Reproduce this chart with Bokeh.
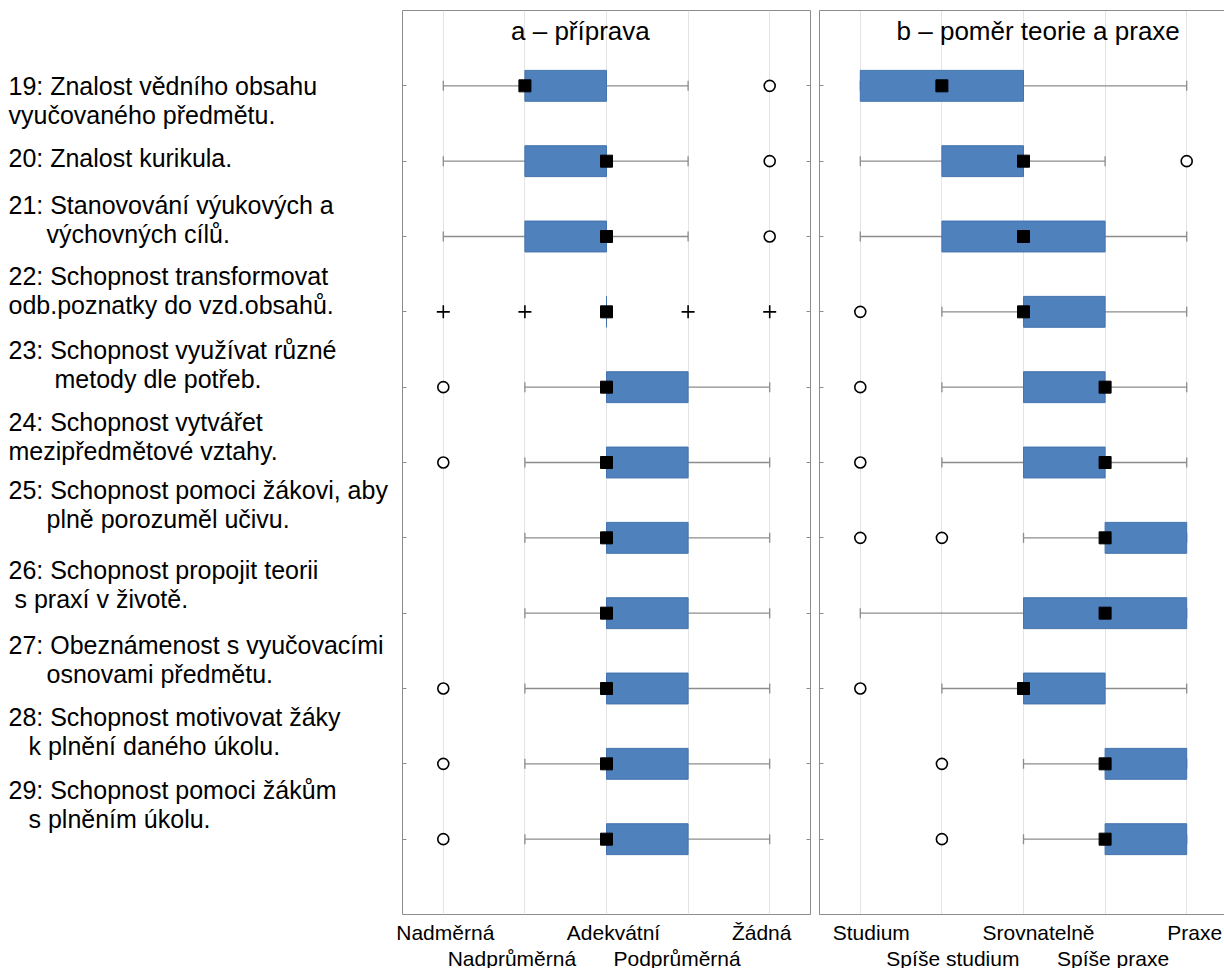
from bokeh.plotting import figure
from bokeh.models import Range1d, FixedTicker, LinearAxis, Label
from bokeh.layouts import row
from bokeh.embed import file_html
from bokeh.resources import INLINE
from bokeh.core.properties import value

# ---------------- data ----------------
items = [
    "19: Znalost vědního obsahu\nvyučovaného  předmětu.",
    "20: Znalost kurikula.",
    "21: Stanovování výukových a\nvýchovných cílů.",
    "22: Schopnost transformovat\nodb.poznatky do vzd.obsahů.",
    "23: Schopnost  využívat různé\nmetody dle potřeb.",
    "24: Schopnost vytvářet\nmezipředmětové  vztahy.",
    "25: Schopnost pomoci žákovi, aby\nplně porozuměl učivu.",
    "26: Schopnost propojit teorii\ns praxí v životě.",
    "27: Obeznámenost s vyučovacími\nosnovami předmětu.",
    "28: Schopnost motivovat žáky\nk plnění daného úkolu.",
    "29: Schopnost pomoci žákům\ns plněním úkolu.",
]
rows = list(range(1, 12))

a_title = "a – příprava"
a_ticks = ["Nadměrná", "Nadprůměrná", "Adekvátní", "Podprůměrná", "Žádná"]
a_min = [1, 1, 1, 3, 2, 2, 2, 2, 2, 2, 2]
a_q1 = [2, 2, 2, 3, 3, 3, 3, 3, 3, 3, 3]
a_med = [2, 3, 3, 3, 3, 3, 3, 3, 3, 3, 3]
a_q3 = [3, 3, 3, 3, 4, 4, 4, 4, 4, 4, 4]
a_max = [4, 4, 4, 3, 5, 5, 5, 5, 5, 5, 5]
a_outliers = [[5], [5], [5], [], [1], [1], [], [], [1], [1], [1]]
a_extremes = [[], [], [], [1, 2, 4, 5], [], [], [], [], [], [], []]

b_title = "b – poměr teorie a praxe"
b_ticks = ["Studium", "Spíše studium", "Srovnatelně", "Spíše praxe", "Praxe"]
b_min = [1, 1, 1, 2, 2, 2, 3, 1, 2, 3, 3]
b_q1 = [1, 2, 2, 3, 3, 3, 4, 3, 3, 4, 4]
b_med = [2, 3, 3, 3, 4, 4, 4, 4, 3, 4, 4]
b_q3 = [3, 3, 4, 4, 4, 4, 5, 5, 4, 5, 5]
b_max = [5, 4, 5, 5, 5, 5, 5, 5, 5, 5, 5]
b_outliers = [[], [5], [], [1], [1], [1], [1, 2], [], [1], [2], [2]]
b_extremes = [[], [], [], [], [], [], [], [], [], [], []]

# ---------------- layout / style ----------------
FONT = "Liberation Sans"
FRAME_H = 904
TOP = 10
PX_PER_UNIT = 81.6
GRAY = "#8c8c8c"
BOX_FILL = "#4F81BD"
BOX_LINE = "#4472AE"

# horizontal nudges (px) of the category labels under each panel
a_label_nudge = [2, -13, 7, -11, -8]
b_label_nudge = [11, 11, 15, 8, 8]

# label text block placement (page pixels)
label_first_y = [85, 157, 204, 275, 349, 421, 489, 569, 644, 716, 789]
label_line_gap = 29.5
label_indent = [[10, 10], [10], [10, 48], [10, 10], [10, 56], [10, 10],
                [10, 48], [10, 16], [10, 48], [10, 30], [10, 30]]

LBL_W = 395
p0 = figure(frame_width=LBL_W, frame_height=FRAME_H,
            x_range=Range1d(0, LBL_W), y_range=Range1d(FRAME_H, 0),
            output_backend="svg", toolbar_location=None,
            min_border_top=TOP, min_border_left=0, min_border_right=0, min_border_bottom=0)
p0.axis.visible = False
p0.grid.visible = False
p0.outline_line_color = None
xs, ys, ts = [], [], []
for i, item in enumerate(items):
    for j, line in enumerate(item.split("\n")):
        ts.append(line)
        xs.append(label_indent[i][j] - 2)
        ys.append(label_first_y[i] + j * label_line_gap - TOP)
p0.text(x=xs, y=ys, text=ts, text_font=value(FONT), text_font_size=value("25px"),
        text_baseline="middle", text_align="left", text_color="black")


def style_y(ax, line_color=None):
    ax.ticker = FixedTicker(ticks=rows)
    ax.major_label_overrides = {r: "" for r in rows}
    ax.major_tick_in = 4
    ax.major_tick_out = 0
    ax.major_tick_line_color = GRAY
    ax.minor_tick_line_color = None
    ax.major_label_standoff = 0
    ax.axis_line_color = line_color


def style_x(ax, idx, labels, nudge, standoff, line_color=None):
    pos = [(i + 1) + nudge[i] / PX_PER_UNIT for i in idx]
    ax.ticker = FixedTicker(ticks=pos)
    ax.major_label_overrides = {p: labels[i] for p, i in zip(pos, idx)}
    ax.major_label_text_font = FONT
    ax.major_label_text_font_size = "21px"
    ax.major_label_text_color = "black"
    ax.major_tick_line_color = None
    ax.minor_tick_line_color = None
    ax.major_tick_in = 0
    ax.major_tick_out = 0
    ax.major_label_standoff = standoff
    ax.axis_line_color = line_color


def panel(title, title_x, tmin, q1, med, q3, tmax, outl, extr, ticks, nudge,
          x_end, frame_w, mb_left, mb_right, closed):
    p = figure(frame_width=frame_w, frame_height=FRAME_H,
               x_range=Range1d(0.5, x_end), y_range=Range1d(12, 0),
               output_backend="svg", toolbar_location=None,
               min_border_top=TOP, min_border_left=mb_left,
               min_border_right=mb_right, min_border_bottom=0)
    p.background_fill_color = "white"
    p.ygrid.visible = False
    p.xgrid.ticker = FixedTicker(ticks=[1, 2, 3, 4, 5])
    p.xgrid.grid_line_color = "#e4e4e4"

    bottom1 = p.below[0]
    if closed:
        p.outline_line_color = GRAY
        style_y(p.left[0])
        ry = LinearAxis()
        style_y(ry)
        p.add_layout(ry, "right")
        style_x(bottom1, [0, 2, 4], ticks, nudge, 6)
    else:
        # frame runs past the right edge of the page: draw only left/top/bottom borders
        p.outline_line_color = None
        style_y(p.left[0], GRAY)
        style_x(bottom1, [0, 2, 4], ticks, nudge, 6, GRAY)
        top = LinearAxis(ticker=FixedTicker(ticks=[]), axis_line_color=GRAY,
                         major_tick_line_color=None, minor_tick_line_color=None,
                         major_label_standoff=0, major_tick_out=0, major_tick_in=0)
        p.add_layout(top, "above")
    ax2 = LinearAxis()
    style_x(ax2, [1, 3], ticks, nudge, 0)
    p.add_layout(ax2, "below")

    # whiskers
    p.segment(x0=tmin, y0=rows, x1=tmax, y1=rows, line_color=GRAY, line_width=1.3)
    cap = 0.066
    p.segment(x0=tmin, y0=[r - cap for r in rows], x1=tmin, y1=[r + cap for r in rows],
              line_color=GRAY, line_width=1.3)
    p.segment(x0=tmax, y0=[r - cap for r in rows], x1=tmax, y1=[r + cap for r in rows],
              line_color=GRAY, line_width=1.3)
    # boxes
    p.hbar(y=rows, left=q1, right=q3, height=0.41, fill_color=BOX_FILL,
           line_color=BOX_LINE, line_width=1)
    # outliers
    ox = [v for vals in outl for v in vals]
    oy = [r for r, vals in zip(rows, outl) for _ in vals]
    p.scatter(x=ox, y=oy, marker="circle", size=11, fill_color="white",
              line_color="black", line_width=1.6)
    ex = [v for vals in extr for v in vals]
    ey = [r for r, vals in zip(rows, extr) for _ in vals]
    if ex:
        p.scatter(x=ex, y=ey, marker="cross", size=13, line_color="black", line_width=1.6)
    # medians
    p.scatter(x=med, y=rows, marker="square", size=12, fill_color="black", line_color="black")

    p.add_layout(Label(x=title_x, y=0.27, text=title, text_font=FONT,
                       text_font_size="26px", text_align="center",
                       text_baseline="middle", text_color="black"))
    return p


pa = panel(a_title, 2.68, a_min, a_q1, a_med, a_q3, a_max, a_outliers, a_extremes,
           a_ticks, a_label_nudge, 5.5, 408, 7, 3, True)
pb = panel(b_title, 3.18, b_min, b_q1, b_med, b_q3, b_max, b_outliers, b_extremes,
           b_ticks, b_label_nudge, 0.5 + 405 / PX_PER_UNIT, 405, 6, 0, False)

layout = row(p0, pa, pb)
open("out.html", "w").write(file_html(layout, INLINE))
